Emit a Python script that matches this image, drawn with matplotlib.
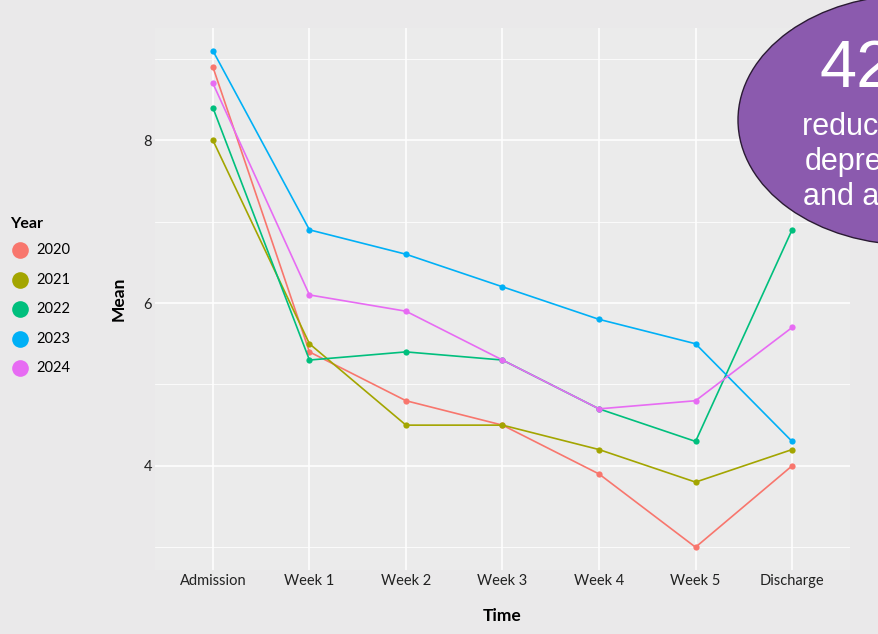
import matplotlib.pyplot as plt
from matplotlib.patches import Ellipse

plt.rcParams['font.family'] = ['Lato', 'DejaVu Sans']

# data
time_points = ["Admission", "Week 1", "Week 2", "Week 3", "Week 4", "Week 5", "Discharge"]
years = ["2020", "2021", "2022", "2023", "2024"]
mean_2020 = [8.9, 5.4, 4.8, 4.5, 3.9, 3.0, 4.0]
mean_2021 = [8.0, 5.5, 4.5, 4.5, 4.2, 3.8, 4.2]
mean_2022 = [8.4, 5.3, 5.4, 5.3, 4.7, 4.3, 6.9]
mean_2023 = [9.1, 6.9, 6.6, 6.2, 5.8, 5.5, 4.3]
mean_2024 = [8.7, 6.1, 5.9, 5.3, 4.7, 4.8, 5.7]
y_ticks = [4, 6, 8]

series = [mean_2020, mean_2021, mean_2022, mean_2023, mean_2024]
colors = ["#F8766D", "#A3A500", "#00BF7D", "#00B0F6", "#E76BF3"]

bg = "#EAE9EA"
fig = plt.figure(figsize=(8.79, 6.34), dpi=100, facecolor=bg)
W, H = 879, 634
# panel in pixels: left 155, right 850, top 28, bottom 570
ax = fig.add_axes([155 / W, 1 - 570 / H, 695 / W, 542 / H])
ax.set_facecolor("#EBEBEB")

x = list(range(len(time_points)))
for vals, c in zip(series, colors):
    ax.plot(x, vals, color=c, lw=1.2, marker="o", markersize=4.5, markeredgewidth=0)

ax.set_xlim(-0.6, len(time_points) - 1 + 0.6)
ax.set_ylim(2.72, 9.38)
ax.set_xticks(x)
ax.set_xticklabels(time_points, fontsize=10.5, color="#222222")
ax.set_yticks(y_ticks)
ax.set_yticklabels([str(v) for v in y_ticks], fontsize=10.5, color="#222222")
ax.set_yticks([3, 5, 7, 9], minor=True)
ax.grid(True, which="major", color="white", lw=1.1)
ax.grid(True, which="minor", axis="y", color="white", lw=0.55)
ax.set_axisbelow(True)
ax.tick_params(axis="x", length=0, pad=3)
ax.tick_params(axis="y", length=0, pad=2)
ax.tick_params(which="minor", length=0)
for s in ax.spines.values():
    s.set_visible(False)

ax.set_xlabel("Time", fontsize=12.5, fontweight="bold", labelpad=14)
ax.set_ylabel("Mean", fontsize=12.5, fontweight="bold", labelpad=12)

# legend drawn by hand on the left
fig.text(10 / W, 1 - 224 / H, "Year", fontsize=11.5, fontweight="bold", va="center", ha="left")
leg_y = [250, 280, 309, 339, 368]
for yy, lab, c in zip(leg_y, years, colors):
    fig.lines.append(plt.Line2D([20 / W], [1 - yy / H], marker="o", markersize=12,
                                color=c, markeredgewidth=0, transform=fig.transFigure))
    fig.text(36 / W, 1 - yy / H, lab, fontsize=10.5, va="center", ha="left")

# purple callout bubble, cut by the right edge as in the source
ell = Ellipse((912 / W, 1 - 120 / H), 348 / W, 250 / H, transform=fig.transFigure,
              facecolor="#8B5AAE", edgecolor="#2a1a33", lw=1.0, zorder=5)
fig.patches.append(ell)
fig.text(820 / W, 1 - 70 / H, "42%", fontsize=48, color="white", family="Liberation Sans",
         va="center", ha="left", zorder=6)
fig.text(802 / W, 1 - 127 / H, "reduction in", fontsize=22, color="white",
         family="Liberation Sans", va="center", ha="left", zorder=6)
fig.text(805 / W, 1 - 162 / H, "depression", fontsize=22, color="white",
         family="Liberation Sans", va="center", ha="left", zorder=6)
fig.text(803 / W, 1 - 197 / H, "and anxiety", fontsize=22, color="white",
         family="Liberation Sans", va="center", ha="left", zorder=6)

fig.savefig("out.png", dpi=100, facecolor=bg)
